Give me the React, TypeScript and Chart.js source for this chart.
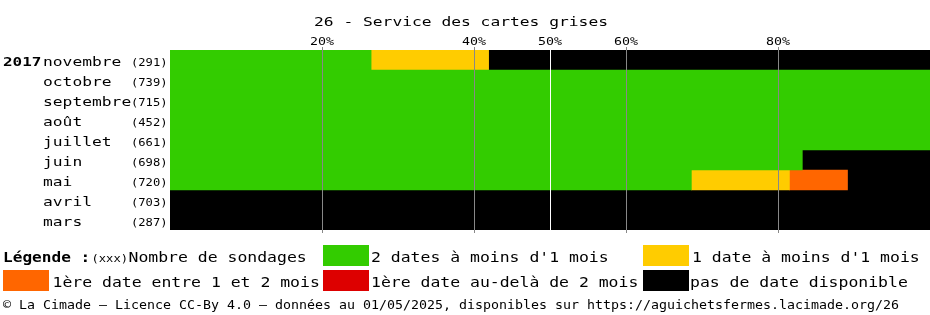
import React, { useEffect, useRef } from "react";
import { Chart, registerables } from "chart.js";

Chart.register(...registerables);

const TITLE = "26 - Service des cartes grises";
const YEAR = "2017";
const MONTHS = ["novembre", "octobre", "septembre", "août", "juillet", "juin", "mai", "avril", "mars"];
const COUNTS = [291, 739, 715, 452, 661, 698, 720, 703, 287];
const TICKS = [20, 40, 50, 60, 80];

// percentages per month
const GREEN = [26.46, 100, 100, 100, 100, 83.2, 68.6, 0, 0];
const YELLOW = [15.46, 0, 0, 0, 0, 0, 12.9, 0, 0];
const ORANGE = [0, 0, 0, 0, 0, 0, 7.64, 0, 0];
const RED = [0, 0, 0, 0, 0, 0, 0, 0, 0];
const BLACK = [58.08, 0, 0, 0, 0, 16.8, 10.86, 100, 100];

const SERIES_LABELS = [
  "2 dates à moins d'1 mois",
  "1 date à moins d'1 mois",
  "1ère date entre 1 et 2 mois",
  "1ère date au-delà de 2 mois",
  "pas de date disponible",
];
const COLORS = ["#33cc00", "#ffcc00", "#ff6600", "#dd0000", "#000000"];
const FOOTER =
  "© La Cimade — Licence CC-By 4.0 — données au 01/05/2025, disponibles sur https://aguichetsfermes.lacimade.org/26";

const FONT = '"DejaVu Sans Mono", monospace';

function drawText(
  ctx: CanvasRenderingContext2D,
  text: string,
  x: number,
  y: number,
  size: number,
  advance: number,
  bold = false,
  align: "left" | "center" = "left",
  color = "#000"
) {
  ctx.save();
  ctx.font = `${bold ? "bold " : ""}${size}px ${FONT}`;
  const natural = ctx.measureText(text).width;
  const target = advance * Array.from(text).length;
  const sx = natural > 0 ? target / natural : 1;
  const left = align === "center" ? x - target / 2 : x;
  ctx.translate(left, y);
  ctx.scale(sx, 1);
  ctx.textAlign = "left";
  ctx.textBaseline = "alphabetic";
  ctx.fillStyle = color;
  ctx.fillText(text, 0, 0);
  ctx.restore();
}

const decorPlugin = {
  id: "decor",
  afterDatasetsDraw(chart: any) {
    const ctx = chart.ctx as CanvasRenderingContext2D;
    const xs = chart.scales.x;
    const area = chart.chartArea;
    ctx.save();
    for (const t of TICKS) {
      const px = Math.round(xs.getPixelForValue(t)) + 0.5;
      ctx.beginPath();
      ctx.lineWidth = 1;
      if (t === 50) {
        ctx.strokeStyle = "#ffffff";
        ctx.moveTo(px, area.top);
        ctx.lineTo(px, area.bottom);
      } else {
        ctx.strokeStyle = "#888888";
        ctx.moveTo(px, area.top - 3);
        ctx.lineTo(px, area.bottom + 3);
      }
      ctx.stroke();
    }
    ctx.restore();
  },
  afterDraw(chart: any) {
    const ctx = chart.ctx as CanvasRenderingContext2D;
    const xs = chart.scales.x;
    const ys = chart.scales.y;

    // title
    drawText(ctx, TITLE, 314, 26, 12.5, 9.8);

    // tick labels
    for (const t of TICKS) {
      drawText(ctx, `${t}%`, xs.getPixelForValue(t), 45, 11, 8, false, "center");
    }

    // row labels
    MONTHS.forEach((m, i) => {
      const cy = ys.getPixelForValue(i);
      if (i === 0) drawText(ctx, YEAR, 3, cy + 6, 13, 9.6, true);
      drawText(ctx, m, 43, cy + 6, 12.5, 9.8);
      drawText(ctx, `(${COUNTS[i]})`, 131, cy + 6, 11, 7.3);
    });

    // legend
    const b1 = 262;
    const b2 = 287;
    drawText(ctx, "Légende :", 3, b1, 14, 9.7, true);
    drawText(ctx, "(xxx)", 91.5, b1, 11, 7.3);
    drawText(ctx, "Nombre de sondages", 128.5, b1, 14, 9.9);

    const items = [
      { box: [323, 245], text: [371, b1] },
      { box: [643, 245], text: [692, b1] },
      { box: [3, 270], text: [52.5, b2] },
      { box: [323, 270], text: [371, b2] },
      { box: [643, 270], text: [690, b2] },
    ];
    items.forEach((it, i) => {
      ctx.save();
      ctx.fillStyle = COLORS[i];
      ctx.fillRect(it.box[0], it.box[1], 46, 21);
      ctx.restore();
      drawText(ctx, SERIES_LABELS[i], it.text[0], it.text[1], 14, 9.9);
    });

    // footer
    drawText(ctx, FOOTER, 3, 309, 12, 8.0);
  },
};

export default function App() {
  const ref = useRef<HTMLCanvasElement | null>(null);
  useEffect(() => {
    if (!ref.current) return;
    const series = [GREEN, YELLOW, ORANGE, RED, BLACK];
    const chart = new Chart(ref.current, {
      type: "bar",
      data: {
        labels: MONTHS,
        datasets: series.map((d, i) => ({
          label: SERIES_LABELS[i],
          data: d.map((v) => (v === 0 ? null : v)),
          backgroundColor: COLORS[i],
          borderWidth: 0,
          barPercentage: 1,
          categoryPercentage: 1,
        })),
      },
      options: {
        indexAxis: "y",
        animation: false,
        responsive: false,
        devicePixelRatio: 1,
        layout: { padding: { left: 170, right: 0, top: 50, bottom: 85 } },
        plugins: {
          legend: { display: false },
          title: { display: false },
          tooltip: { enabled: false },
        },
        scales: {
          x: { stacked: true, min: 0, max: 100, display: false },
          y: { stacked: true, display: false },
        },
      },
      plugins: [decorPlugin],
    });
    return () => chart.destroy();
  }, []);
  return (
    <div style={{ position: "absolute", left: 0, top: 0, width: 930, height: 315, background: "#fff" }}>
      <canvas ref={ref} width={930} height={315} style={{ width: 930, height: 315, display: "block" }} />
    </div>
  );
}
